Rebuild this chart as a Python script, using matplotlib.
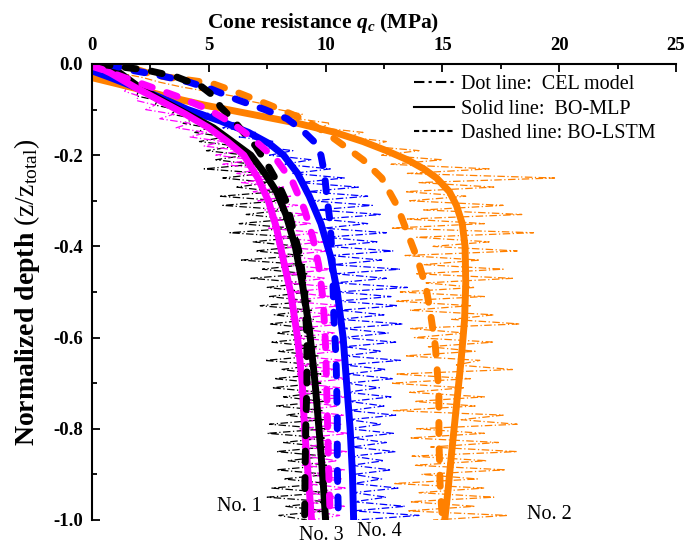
import matplotlib
matplotlib.use("Agg")
import matplotlib.pyplot as plt
from matplotlib.lines import Line2D
from matplotlib.ticker import MultipleLocator

plt.rcParams['font.family'] = ['Liberation Serif', 'DejaVu Serif']
plt.rcParams['mathtext.fontset'] = 'custom'
plt.rcParams['mathtext.rm'] = 'Liberation Serif'
plt.rcParams['mathtext.it'] = 'Liberation Serif:italic:bold'
plt.rcParams['mathtext.bf'] = 'Liberation Serif:bold'

# ---------------- data ----------------
cel_depth = [-i / 100 for i in range(101)]

cel_no1 = [0.0, 0.0, 0.3, 0.5, 1.1, 1.2, 2.0, 1.9, 2.8, 2.7,
           3.6, 3.4, 4.4, 3.9, 5.0, 4.4, 5.7, 4.6, 6.2, 4.9,
           6.6, 5.3, 6.9, 4.8, 7.4, 5.6, 7.6, 6.2, 7.9, 5.5,
           8.1, 5.6, 8.3, 6.6, 8.5, 6.3, 8.6, 5.9, 8.8, 6.9,
           8.9, 7.0, 9.0, 6.4, 9.1, 7.3, 9.2, 6.8, 9.2, 7.5,
           9.3, 7.6, 9.4, 7.2, 9.4, 7.8, 9.5, 7.6, 9.5, 7.9,
           9.6, 7.7, 9.6, 8.0, 9.7, 7.4, 9.7, 8.1, 9.8, 7.8,
           9.8, 7.7, 9.8, 8.2, 9.9, 7.9, 9.9, 8.3, 9.9, 7.6,
           10.0, 7.5, 10.0, 8.2, 10.0, 7.9, 10.0, 8.4, 10.1, 7.9,
           10.1, 8.2, 10.1, 7.7, 10.1, 7.5, 10.1, 8.3, 10.0, 8.0,
           9.2]

cel_no2 = [0.0, 0.5, 1.2, 2.2, 2.9, 3.8, 4.9, 6.0, 6.6, 7.6,
           8.0, 9.0, 8.8, 10.2, 9.8, 11.6, 11.0, 12.6, 11.8, 14.0,
           12.4, 15.0, 12.8, 17.0, 13.5, 19.8, 14.0, 17.2, 13.4, 16.0,
           13.6, 17.6, 14.2, 18.4, 13.5, 16.8, 12.8, 18.9, 13.9, 17.0,
           14.6, 18.2, 13.4, 16.6, 14.2, 17.6, 13.9, 18.0, 14.3, 16.4,
           13.2, 16.8, 13.0, 16.2, 13.6, 17.2, 15.4, 18.3, 13.6, 16.0,
           13.8, 17.2, 14.4, 16.4, 13.4, 16.6, 15.6, 18.0, 13.0, 16.2,
           12.8, 15.9, 13.6, 16.8, 13.8, 16.4, 12.9, 17.6, 15.8, 18.2,
           13.9, 16.8, 13.6, 17.4, 14.5, 18.2, 13.7, 16.9, 13.8, 17.7,
           14.1, 16.5, 12.9, 16.8, 14.0, 17.2, 13.6, 16.4, 13.5, 17.8,
           14.6]

cel_no3 = [0.0, 0.1, 0.3, 0.7, 1.0, 1.5, 1.4, 2.0, 1.9, 2.7,
           2.3, 3.5, 2.9, 4.2, 3.6, 4.9, 4.2, 5.6, 4.8, 6.4,
           5.3, 6.9, 5.6, 7.3, 6.2, 7.7, 6.4, 8.2, 6.9, 8.5,
           7.1, 8.8, 7.4, 9.2, 7.6, 9.4, 7.5, 9.7, 7.9, 9.9,
           8.0, 10.1, 8.2, 9.8, 8.1, 10.3, 8.4, 10.0, 8.3, 10.5,
           8.5, 10.2, 8.4, 10.7, 8.6, 10.3, 8.5, 10.8, 8.7, 10.4,
           8.6, 10.9, 8.8, 10.5, 8.7, 10.8, 8.9, 10.4, 8.8, 11.0,
           8.9, 10.6, 8.8, 10.9, 9.0, 10.5, 8.9, 10.8, 9.0, 10.7,
           8.9, 11.0, 9.1, 10.6, 9.0, 10.9, 9.1, 10.5, 9.0, 10.8,
           9.2, 10.7, 9.1, 10.9, 9.2, 10.6, 9.1, 10.8, 9.3, 10.6,
           9.4]

cel_no4 = [0.0, 0.2, 0.5, 1.0, 1.2, 2.0, 1.9, 2.9, 2.6, 3.8,
           4.0, 5.2, 4.8, 6.2, 5.6, 7.0, 6.3, 7.8, 7.0, 8.6,
           7.6, 9.4, 8.2, 10.2, 8.6, 10.8, 8.9, 11.4, 9.2, 11.8,
           9.4, 12.0, 9.6, 12.4, 9.8, 11.8, 9.9, 12.6, 10.0, 12.2,
           10.1, 12.9, 10.2, 12.4, 10.3, 13.2, 10.4, 12.6, 10.4, 13.5,
           10.5, 12.8, 10.5, 13.1, 10.6, 12.5, 10.6, 13.3, 10.7, 12.7,
           10.7, 13.0, 10.8, 12.4, 10.8, 13.2, 10.8, 12.6, 10.9, 12.9,
           10.9, 12.3, 10.9, 12.8, 11.0, 12.5, 11.0, 13.0, 11.0, 12.4,
           11.0, 12.9, 11.1, 12.6, 11.1, 13.0, 11.1, 12.5, 11.1, 12.8,
           11.2, 12.4, 11.2, 13.1, 11.2, 12.6, 11.2, 13.4, 11.2, 14.0,
           11.3]

# BO-MLP (solid)
mlp_no1_d = [0, -0.02, -0.05, -0.08, -0.11, -0.14, -0.17, -0.20, -0.24, -0.28,
             -0.33, -0.40, -0.48, -0.58, -0.70, -0.82, -0.92, -1.0]
mlp_no1_q = [0.3, 1.2, 2.0, 3.0, 4.1, 5.2, 6.0, 6.8, 7.4, 7.9,
             8.3, 8.7, 9.0, 9.3, 9.55, 9.75, 9.9, 10.0]
mlp_no2_d = [-0.03, -0.05, -0.07, -0.09, -0.11, -0.13, -0.15, -0.17, -0.19, -0.21,
             -0.23, -0.25, -0.28, -0.31, -0.35, -0.40, -0.48, -0.56, -0.65, -0.75,
             -0.85, -0.93, -1.0]
mlp_no2_q = [0.0, 1.6, 3.1, 4.8, 6.8, 8.8, 10.4, 11.6, 12.6, 13.5,
             14.2, 14.75, 15.3, 15.6, 15.85, 15.97, 16.0, 15.95, 15.8, 15.6,
             15.4, 15.25, 15.1]
mlp_no3_d = [0, -0.02, -0.05, -0.08, -0.11, -0.14, -0.17, -0.20, -0.25, -0.30,
             -0.36, -0.42, -0.50, -0.60, -0.70, -0.80, -0.90, -1.0]
mlp_no3_q = [0.0, 0.8, 1.8, 2.9, 4.0, 5.0, 5.8, 6.5, 7.1, 7.55,
             7.9, 8.15, 8.5, 8.8, 9.0, 9.1, 9.25, 9.4]
mlp_no4_d = [-0.015, -0.03, -0.05, -0.075, -0.10, -0.125, -0.15, -0.175, -0.20, -0.24,
             -0.29, -0.35, -0.42, -0.50, -0.60, -0.70, -0.80, -0.90, -1.0]
mlp_no4_q = [0.0, 0.8, 1.8, 3.0, 4.1, 5.5, 6.7, 7.6, 8.2, 8.8,
             9.3, 9.8, 10.2, 10.5, 10.75, 10.9, 11.05, 11.15, 11.2]

# BO-LSTM (dashed)
lstm_no1_d = [0, -0.005, -0.013, -0.028, -0.05, -0.07, -0.094, -0.12, -0.145, -0.18,
              -0.22, -0.26, -0.30, -0.36, -0.42, -0.50, -0.60, -0.70, -0.80, -0.90, -1.0]
lstm_no1_q = [0.3, 1.0, 2.3, 3.6, 4.7, 5.2, 5.5, 6.0, 6.4, 7.0,
              7.5, 7.95, 8.3, 8.6, 8.9, 9.1, 9.2, 9.2, 9.15, 9.12, 9.1]
lstm_no2_d = [0, -0.01, -0.025, -0.042, -0.064, -0.09, -0.12, -0.15, -0.178, -0.21,
              -0.25, -0.31, -0.37, -0.43, -0.49, -0.55, -0.62, -0.72, -0.82, -0.92, -1.0]
lstm_no2_q = [0.8, 1.8, 2.7, 5.1, 6.3, 7.6, 9.0, 10.0, 10.75, 11.6,
              12.4, 13.05, 13.5, 13.95, 14.3, 14.5, 14.7, 14.85, 14.85, 14.9, 15.0]
lstm_no3_d = [-0.005, -0.013, -0.03, -0.05, -0.072, -0.10, -0.13, -0.16, -0.21, -0.26,
              -0.32, -0.38, -0.44, -0.52, -0.62, -0.72, -0.82, -0.92, -1.0]
lstm_no3_q = [0.0, 0.5, 1.4, 2.5, 3.7, 5.0, 6.0, 6.8, 7.9, 8.6,
              9.1, 9.45, 9.7, 9.9, 10.0, 10.05, 10.1, 10.15, 10.2]
lstm_no4_d = [0, -0.012, -0.024, -0.039, -0.055, -0.079, -0.10, -0.12, -0.145, -0.17,
              -0.20, -0.24, -0.29, -0.35, -0.45, -0.55, -0.65, -0.77, -0.88, -1.0]
lstm_no4_q = [0.7, 1.5, 2.8, 4.1, 5.1, 6.25, 7.4, 8.35, 9.0, 9.5,
              9.8, 9.95, 10.05, 10.2, 10.3, 10.35, 10.45, 10.5, 10.5, 10.55]

colors = {'No. 1': '#000000', 'No. 2': '#FF8000', 'No. 3': '#FF00FF', 'No. 4': '#0000FF'}
legend_labels = ['Dot line:  CEL model', 'Solid line:  BO-MLP', 'Dashed line: BO-LSTM']
case_labels = ['No. 1', 'No. 3', 'No. 4', 'No. 2']
case_label_q = [6.3, 9.8, 12.3, 19.6]
case_label_d = [-0.971, -1.033, -1.026, -0.989]

# ---------------- plot ----------------
fig = plt.figure(figsize=(6.84, 5.44), dpi=100)
ax = fig.add_axes([92 / 684, 1 - 520 / 544, 584 / 684, 456 / 544])

cel_style = dict(lw=0.9, linestyle=(0, (6, 2, 1, 2)))
for q, key in [(cel_no1, 'No. 1'), (cel_no3, 'No. 3'), (cel_no4, 'No. 4'), (cel_no2, 'No. 2')]:
    ax.plot(q, cel_depth, color=colors[key], **cel_style)

solid_style = dict(lw=5, solid_capstyle='round', solid_joinstyle='round')
for q, d, key in [(mlp_no2_q, mlp_no2_d, 'No. 2'), (mlp_no4_q, mlp_no4_d, 'No. 4'),
                  (mlp_no1_q, mlp_no1_d, 'No. 1'), (mlp_no3_q, mlp_no3_d, 'No. 3')]:
    ax.plot(q, d, color=colors[key], **solid_style)

dash_style = dict(lw=5, linestyle=(0, (1.6, 2.2)), dash_capstyle='round', dash_joinstyle='round')
for q, d, key in [(lstm_no2_q, lstm_no2_d, 'No. 2'), (lstm_no4_q, lstm_no4_d, 'No. 4'),
                  (lstm_no1_q, lstm_no1_d, 'No. 1'), (lstm_no3_q, lstm_no3_d, 'No. 3')]:
    ax.plot(q, d, color=colors[key], **dash_style)

ax.set_xlim(0, 25)
ax.set_ylim(-1.0, 0.0)
ax.spines['bottom'].set_visible(False)
ax.spines['right'].set_visible(False)
for s in ('left', 'top'):
    ax.spines[s].set_linewidth(1.5)
ax.xaxis.tick_top()
ax.xaxis.set_label_position('top')
ax.xaxis.set_major_locator(MultipleLocator(5))
ax.xaxis.set_minor_locator(MultipleLocator(2.5))
ax.yaxis.set_major_locator(MultipleLocator(0.2))
ax.yaxis.set_minor_locator(MultipleLocator(0.1))
ax.tick_params(which='both', direction='in', width=1.3, top=True, bottom=False,
               left=True, right=False, labelsize=13.5)
ax.tick_params(axis='y', pad=6.5)
ax.tick_params(axis='x', pad=7)
ax.tick_params(which='major', length=6)
ax.tick_params(which='minor', length=3.5)
for lab in ax.get_xticklabels() + ax.get_yticklabels():
    lab.set_fontweight('bold')
ax.yaxis.set_major_formatter(plt.FuncFormatter(lambda v, p: f"{v:.1f}"))

ax.set_xlabel(r'Cone resistance $q_c$ (MPa)', fontsize=15.5, fontweight='bold')
ax.xaxis.set_label_coords((323 - 92) / 584, 1 + (64 - 28) / 456)
ax.set_ylabel(r'Normalized depth $\mathrm{(z/z_{total})}$', fontsize=20, fontweight='bold')
ax.yaxis.set_label_coords((42 - 92) / 584, 0.5)

handles = [Line2D([], [], color='black', lw=1.5, linestyle=(0, (5, 2, 1.5, 2))),
           Line2D([], [], color='black', lw=1.5, linestyle='-'),
           Line2D([], [], color='black', lw=1.5, linestyle=(0, (2.5, 1.5)))]
ax.legend(handles, legend_labels, loc='upper left', frameon=False,
          bbox_to_anchor=((414 - 92) / 584, 1 - 11 / 456), borderaxespad=0, borderpad=0,
          fontsize=14.5, handlelength=2.0, handletextpad=0.35, labelspacing=0.27)

for txt, q, d in zip(case_labels, case_label_q, case_label_d):
    ax.text(q, d, txt, fontsize=14.5, ha='center', va='center', clip_on=False)

fig.savefig('out.png', dpi=100)
